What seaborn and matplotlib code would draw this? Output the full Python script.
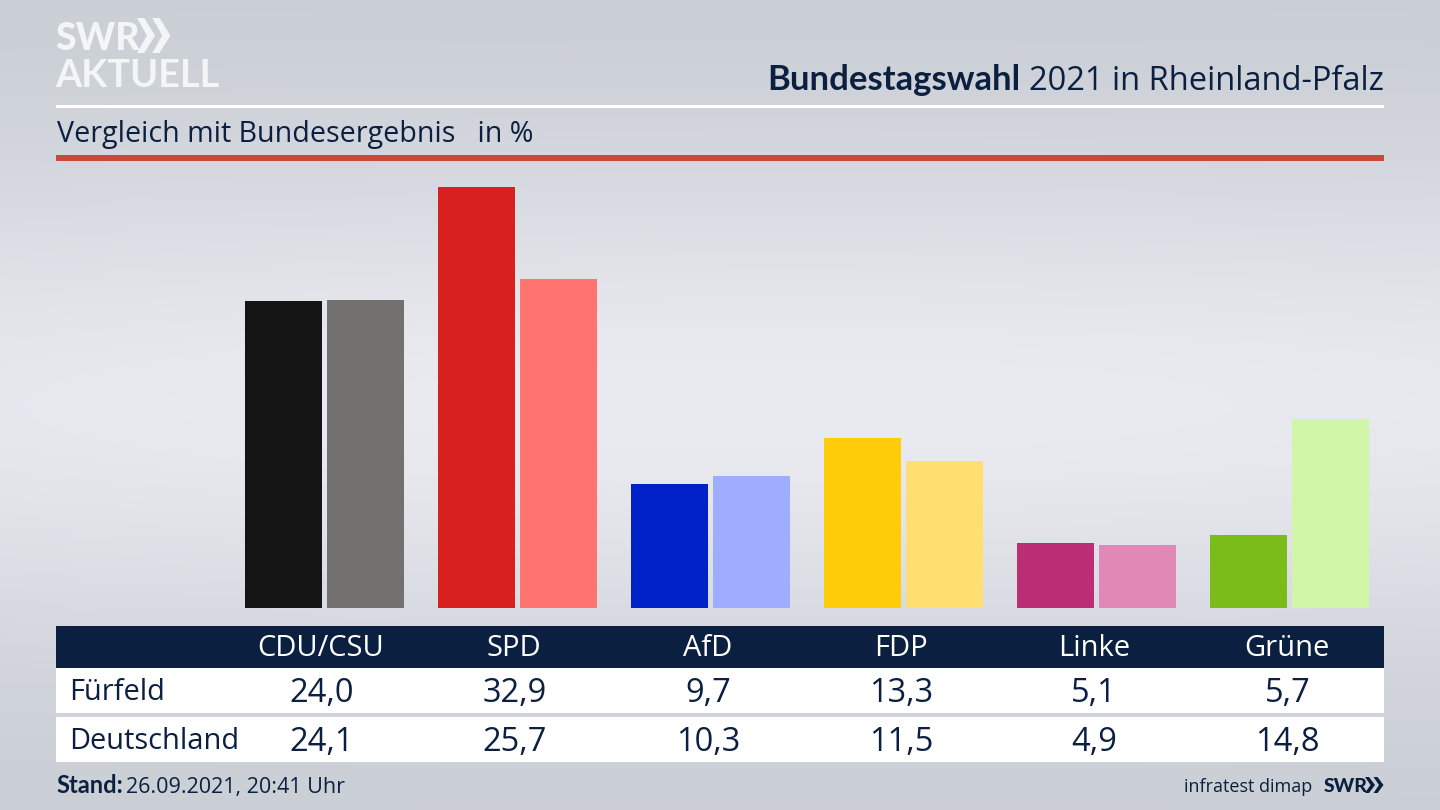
import numpy as np
import pandas as pd
import matplotlib
matplotlib.use('Agg')
import matplotlib.pyplot as plt
from matplotlib.patches import Rectangle, Polygon
import seaborn as sns

parties = ['CDU/CSU', 'SPD', 'AfD', 'FDP', 'Linke', 'Grüne']
fuerfeld = [24.0, 32.9, 9.7, 13.3, 5.1, 5.7]
deutschland = [24.1, 25.7, 10.3, 11.5, 4.9, 14.8]
fuerfeld_labels = ['24,0', '32,9', '9,7', '13,3', '5,1', '5,7']
deutschland_labels = ['24,1', '25,7', '10,3', '11,5', '4,9', '14,8']
colors_dark = ['#141414', '#d8201e', '#0021c8', '#ffcc0a', '#bb2e75', '#7abd1b']
colors_light = ['#72716f', '#ff7470', '#9fadff', '#ffdf70', '#e088b6', '#d2f6a8']

navy = '#0b2040'
logo = '#f4f5f7'
sns.set_theme(style='white')
plt.rcParams['font.family'] = ['Open Sans', 'DejaVu Sans']
BOLD = ['Lato', 'DejaVu Sans']

df = pd.DataFrame({
    'partei': parties * 2,
    'wert': fuerfeld + deutschland,
    'gebiet': ['Fürfeld'] * 6 + ['Deutschland'] * 6,
})

fig = plt.figure(figsize=(14.4, 8.1), dpi=100)

# background
bg = fig.add_axes([0, 0, 1, 1], zorder=0)
yy, xx = np.mgrid[0:1:200j, 0:1:356j]
shade = np.exp(-((yy - 0.5) / 0.30) ** 2) * (1 - 0.35 * np.abs(xx - 0.55) ** 2)
c0 = np.array([201, 205, 212]) / 255
c1 = np.array([234, 235, 241]) / 255
bg.imshow(c0 + (c1 - c0) * shade[..., None], aspect='auto', interpolation='bilinear')
bg.axis('off')

# bars: 193 px per category, 12.79 px per percentage point
W, H = 1440, 810
ax = fig.add_axes([228 / W, 1 - 608 / H, 1158 / W, 438 / H], zorder=1)
ax.patch.set_alpha(0)
sns.barplot(data=df, x='partei', y='wert', hue='gebiet', order=parties,
            hue_order=['Fürfeld', 'Deutschland'], width=0.85, gap=0.061,
            legend=False, saturation=1, linewidth=0, ax=ax)
for bars, cols in zip(ax.containers, [colors_dark, colors_light]):
    for bar, col in zip(bars, cols):
        bar.set_facecolor(col)
        bar.set_edgecolor('none')
ax.set_xlim(-0.5, 5.5)
ax.set_ylim(0, 438 / 12.79)
ax.axis('off')

# overlay in pixel coordinates
ov = fig.add_axes([0, 0, 1, 1], zorder=2)
ov.set_xlim(0, W)
ov.set_ylim(H, 0)
ov.axis('off')

ov.add_patch(Rectangle((56, 104.5), 1328, 3, color='white', lw=0))
ov.add_patch(Rectangle((56, 155), 1328, 5.5, color='#c84b3a', lw=0))
ov.add_patch(Rectangle((56, 626), 1328, 42, color=navy, lw=0))
ov.add_patch(Rectangle((56, 668), 1328, 45, color='white', lw=0))
ov.add_patch(Rectangle((56, 717), 1328, 45, color='white', lw=0))


def chevrons(x, y0, y1, w, col):
    # the two arrows of the SWR logo
    ym = (y0 + y1) / 2
    for dx in (0, w * 0.85):
        ov.add_patch(Polygon([(x + dx, y0), (x + dx + w * 0.4, y0), (x + dx + w, ym),
                              (x + dx + w * 0.4, y1), (x + dx, y1), (x + dx + w * 0.55, ym)],
                             color=col, lw=0))


ov.text(55, 50, 'SWR', fontsize=27, fontweight='black', family=BOLD, color=logo, va='baseline')
chevrons(137, 18, 53, 18, logo)
ov.text(55, 87, 'AKTUELL', fontsize=27.3, fontweight='bold', family=BOLD, color=logo, va='baseline')

t = ov.text(1384, 90, '2021 in Rheinland-Pfalz', fontsize=23.5, color=navy, ha='right', va='baseline')
fig.canvas.draw()
bb = t.get_window_extent().transformed(ov.transData.inverted())
ov.text(bb.x0 - 9, 90, 'Bundestagswahl', fontsize=24.9, fontweight='bold', family=BOLD, color=navy, ha='right', va='baseline')
ov.text(57, 142, 'Vergleich mit Bundesergebnis   in %', fontsize=20.65, color=navy, va='baseline')

for i, p in enumerate(parties):
    cx = 321 + 193.2 * i
    ov.text(cx, 656, p, fontsize=21, color='white', ha='center', va='baseline')
    ov.text(cx + 0.5, 702, fuerfeld_labels[i], fontsize=23.5, color=navy, ha='center', va='baseline')
    ov.text(cx + 0.5, 751, deutschland_labels[i], fontsize=23.5, color=navy, ha='center', va='baseline')
ov.text(69, 700, 'Fürfeld', fontsize=20.9, color=navy, va='baseline')
ov.text(69, 749, 'Deutschland', fontsize=20.9, color=navy, va='baseline')

ov.text(56, 793, 'Stand:', fontsize=17, fontweight='bold', family=BOLD, color=navy, va='baseline')
ov.text(126, 793, '26.09.2021, 20:41 Uhr', fontsize=15.5, color=navy, va='baseline')
ov.text(1312, 792, 'infratest dimap', fontsize=13, color=navy, ha='right', va='baseline')
ov.text(1324, 792, 'SWR', fontsize=14, fontweight='black', family=BOLD, color=navy, va='baseline')
chevrons(1365, 777, 793, 10, navy)

fig.savefig('out.png', dpi=100)
